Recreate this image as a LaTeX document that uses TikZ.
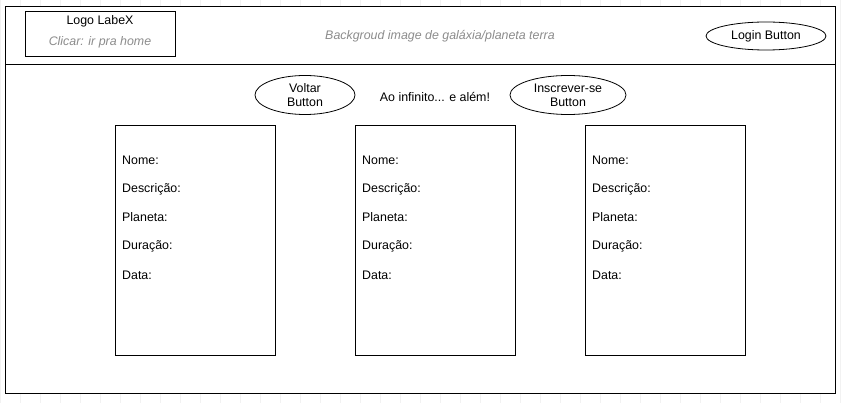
\documentclass[tikz,border=0pt]{standalone}
\usepackage{fontspec}
\setmainfont{Liberation Sans}
\usetikzlibrary{shapes.geometric}
\begin{document}
\begin{tikzpicture}[x=1pt,y=-1pt,
  every node/.style={font=\fontsize{12.4}{14.4}\selectfont, inner sep=0pt},
  frame/.style={draw=black, line width=1pt},
  hint/.style={text=black!45, font=\fontsize{12.4}{14.4}\selectfont\itshape},
  btn/.style={draw=black, line width=0.8pt, ellipse, minimum width=#1, align=center},
  field/.style={anchor=west}
]
\useasboundingbox (0,0) rectangle (844,403);
% faint grid outside the frame
\draw[black!5, line width=0.5pt, step=20] (0,0) grid (844,403);
\fill[white] (5.5,6.5) rectangle (835,394);
% outer frame and header
\draw[frame] (5.5,6.5) rectangle (835,394);
\coordinate (hl) at (5.5,65);
\coordinate (hr) at (835,65);
\draw[frame] (hl) -- (hr);
% logo
\node[frame, minimum width=150, minimum height=45] (logo) at (100,34) {};
\node (logot) at (100,21) {Logo LabeX};
\node[hint] (logoh) at (100,42) {Clicar: ir pra home};
\node[hint] (bg) at (440,36) {Backgroud image de galáxia/planeta terra};
\node[btn=120, minimum height=28] (login) at (766,36) {Login Button};
% second row
\node[btn=100, minimum height=39] (voltar) at (305,95) {Voltar\\Button};
\node (title) at (435,97) {Ao infinito... e além!};
\node[btn=116, minimum height=39] (insc) at (568,95) {Inscrever-se\\Button};
% cards
\foreach \n/\x in {c1/115, c2/355, c3/585} {
  \node[frame, anchor=north west, minimum width=160, minimum height=230] (\n) at (\x,125) {};
  \node[field] (\n a) at (\x+7,160) {Nome:};
  \node[field] (\n b) at (\x+7,189) {Descrição:};
  \node[field] (\n c) at (\x+7,217) {Planeta:};
  \node[field] (\n d) at (\x+7,246) {Duração:};
  \node[field] (\n e) at (\x+7,275) {Data:};
}
\end{tikzpicture}
\end{document}
